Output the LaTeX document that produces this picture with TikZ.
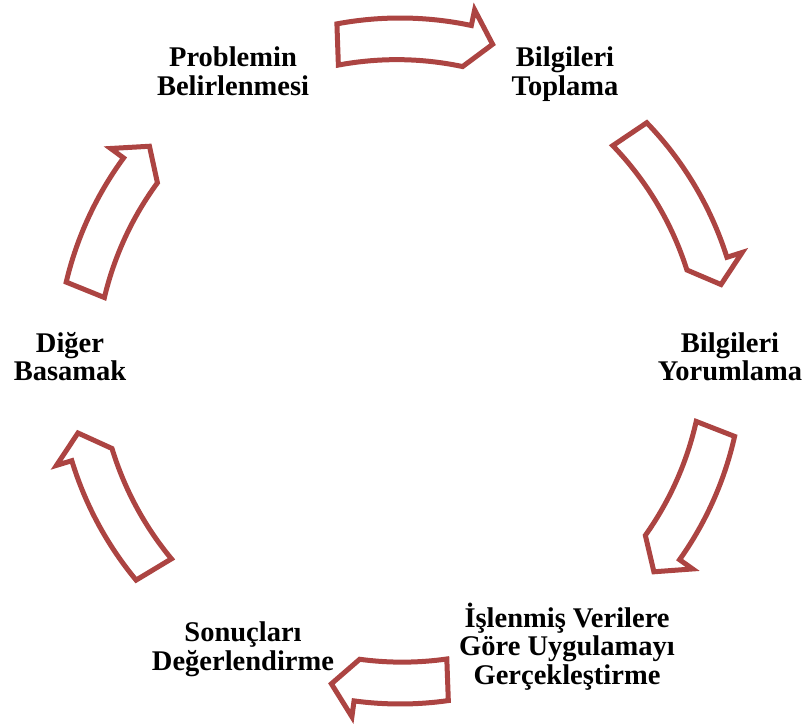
\documentclass[tikz,border=0pt]{standalone}
\usepackage{fontspec}
\setmainfont{Liberation Serif}
\definecolor{arrowred}{RGB}{172,68,66}
\tikzset{
  stagetext/.style={font=\bfseries\fontsize{28.5}{28.5}\selectfont, align=center, inner sep=0pt},
  cyclearrow/.style={draw=arrowred, fill=white, line width=5pt, line join=miter}
}
% curved block arrow on the ring: #1 tail angle, #2 head base angle, #3 tip angle
\newcommand{\cyclearc}[3]{%
  \draw[cyclearrow] (#1:343) arc[start angle=#1, end angle=#2, radius=343]
    -- (#2:359) -- (#3:330) -- (#2:301)
    arc[start angle=#2, end angle=#1, radius=317] -- cycle;
}
\begin{document}
\begin{tikzpicture}[x=1pt,y=-1pt]
\useasboundingbox (0,0) rectangle (810,727);

% ring of arrows, angles counted anticlockwise from the right
\begin{scope}[shift={(400,361)}, y=1pt]
  \cyclearc{100.6}{78}{73.7}
  \cyclearc{44}{17.6}{13.4}
  \cyclearc{-12.7}{-35.4}{-39.7}
  \cyclearc{-81.9}{-97.7}{-102}
  \cyclearc{-140.3}{-163.1}{-167.4}
  \cyclearc{166.7}{143.7}{139.4}
\end{scope}

\node[stagetext] (problem) at (233,75.3) {\strut Problemin\\\strut Belirlenmesi};
\node[stagetext] (toplama) at (565,75.3) {\strut Bilgileri\\\strut Toplama};
\node[stagetext] (yorum) at (730,360.8) {\strut Bilgileri\\\strut Yorumlama};
\node[stagetext] (uygula) at (567,647.8) {\strut İşlenmiş Verilere\\\strut Göre Uygulamayı\\\strut Gerçekleştirme};
\node[stagetext] (sonuc) at (243,650.3) {\strut Sonuçları\\\strut Değerlendirme};
\node[stagetext] (diger) at (70,360.8) {\strut Diğer\\\strut Basamak};
\end{tikzpicture}
\end{document}
